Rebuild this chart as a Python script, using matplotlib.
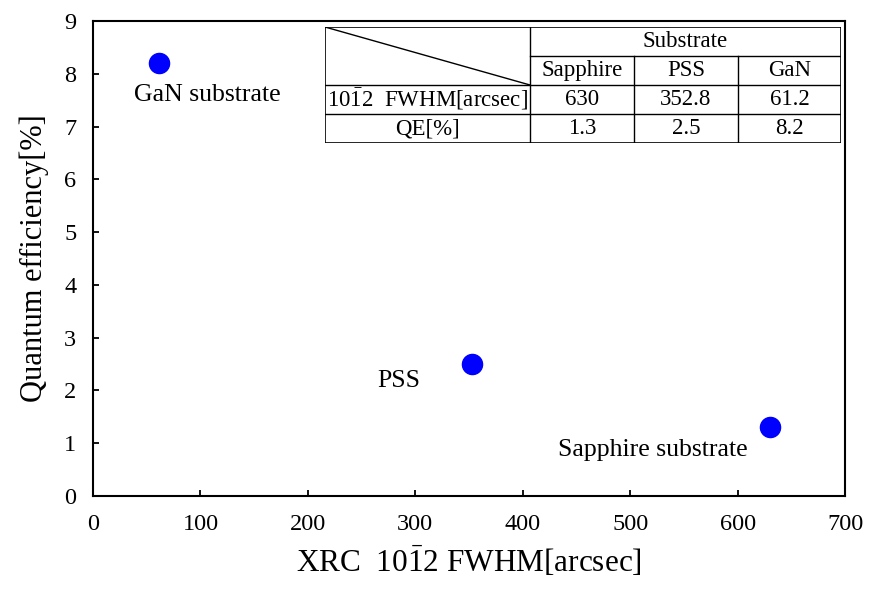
#!/usr/bin/env python
# coding=utf-8

import matplotlib
matplotlib.use('Agg')
import matplotlib.pyplot as plt

plt.rcParams['font.family'] = ['Liberation Serif', 'DejaVu Serif']
plt.rcParams['mathtext.fontset'] = 'custom'
plt.rcParams['mathtext.rm'] = 'Liberation Serif'
plt.rcParams['mathtext.it'] = 'Liberation Serif:italic'

# data
substrates = ['Sapphire', 'PSS', 'GaN']
fwhm = [630, 352.8, 61.2]
qe = [1.3, 2.5, 8.2]
point_labels = ['Sapphire substrate', 'PSS', 'GaN substrate']
label_offsets = [(-84, -16), (-53, -12), (35, -23)]  # points

fig = plt.figure(figsize=(8.71, 5.91), dpi=100)
ax = fig.add_axes([93 / 871, 1 - 496 / 591, 752 / 871, 475 / 591])

ax.scatter(fwhm, qe, s=210, color='#0000ff', zorder=3)
for x, y, lab, off in zip(fwhm, qe, point_labels, label_offsets):
    ax.annotate(lab, (x, y), xytext=off, textcoords='offset points',
                ha='center', va='center', fontsize=18.5)

ax.set_xlim(0, 700)
ax.set_ylim(0, 9)
ax.set_xticks(range(0, 701, 100))
ax.set_yticks(range(0, 10))
ax.tick_params(direction='in', length=4, width=1.3, labelsize=17.5)
ax.tick_params(axis='x', pad=13)
ax.tick_params(axis='y', pad=12)
for sp in ax.spines.values():
    sp.set_linewidth(1.5)
ax.set_xlabel(r'XRC  $\mathrm{10\bar{1}2}$ FWHM[arcsec]', fontsize=22.5, labelpad=7)
ax.set_ylabel('Quantum efficiency[%]', fontsize=22, labelpad=11)

# table in the upper right corner
tab = fig.add_axes([325 / 871, 1 - 143 / 591, 516 / 871, 116 / 591])
tab.set_xlim(0, 516)
tab.set_ylim(116, 0)
tab.axis('off')
tab.add_patch(plt.Rectangle((0, 0), 516, 116, facecolor='white',
                            edgecolor='black', lw=1.2))
cols = [0, 205, 309, 413, 516]
rows = [0, 29, 58, 87, 116]
lk = dict(color='black', lw=1)
for c in cols[1:-1]:
    top = 29 if c != 205 else 0
    tab.plot([c, c], [top, 116], **lk)
tab.plot([205, 516], [29, 29], **lk)
for r in rows[2:-1]:
    tab.plot([0, 516], [r, r], **lk)
tab.plot([0, 205], [0, 58], **lk)

fs = 16.5
tab.text((205 + 516) / 2, 14.5, 'Substrate', ha='center', va='center', fontsize=fs)
row_names = [r'$\mathrm{10\bar{1}2}$  FWHM[arcsec]', 'QE[%]']
for i, name in enumerate(substrates):
    cx = (cols[i + 1] + cols[i + 2]) / 2
    tab.text(cx, 43.5, name, ha='center', va='center', fontsize=fs)
    tab.text(cx, 72.5, f'{fwhm[i]:g}', ha='center', va='center', fontsize=fs)
    tab.text(cx, 101.5, f'{qe[i]:g}', ha='center', va='center', fontsize=fs)
tab.text(102.5, 72.5, row_names[0], ha='center', va='center', fontsize=fs)
tab.text(102.5, 101.5, row_names[1], ha='center', va='center', fontsize=fs)

fig.savefig('out.png', dpi=100)
